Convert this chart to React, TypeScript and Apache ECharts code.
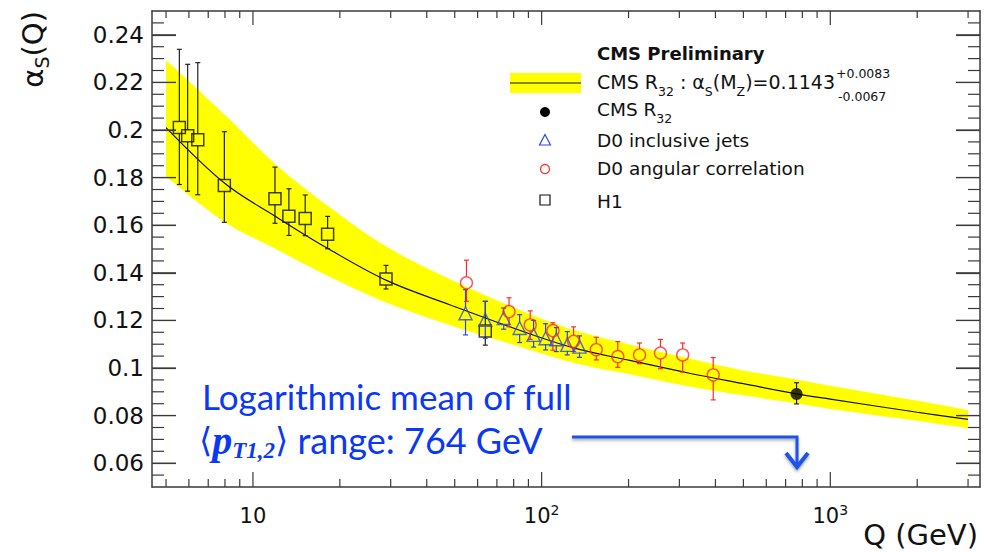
import React, { useEffect, useRef } from "react";
import * as echarts from "echarts";

// ---------- axis ticks ----------
const xMajorTicks = [10, 100, 1000];
const xMinorTicks = [5, 6, 7, 8, 9, 20, 30, 40, 50, 60, 70, 80, 90, 200, 300, 400, 500, 600, 700, 800, 900, 2000, 3000];
const yMajorTicks = [0.06, 0.08, 0.1, 0.12, 0.14, 0.16, 0.18, 0.2, 0.22, 0.24];
const yMinorTicks = [
  0.055, 0.065, 0.07, 0.075, 0.085, 0.09, 0.095, 0.105, 0.11, 0.115, 0.125, 0.13, 0.135, 0.145, 0.15, 0.155,
  0.165, 0.17, 0.175, 0.185, 0.19, 0.195, 0.205, 0.21, 0.215, 0.225, 0.23, 0.235, 0.245,
];

// ---------- CMS R32 fit band ----------
const bandQ = [5, 8, 12, 18, 29, 48, 91.2, 135, 200, 325, 500, 764, 1000, 2000, 3000];
const bandCentre = [0.201, 0.1775, 0.1636, 0.1505, 0.1368, 0.1266, 0.1143, 0.1078, 0.1033, 0.0978, 0.0934, 0.0891, 0.0869, 0.0814, 0.0784];
const bandUpper = [0.2294, 0.2063, 0.1855, 0.1685, 0.151, 0.1374, 0.1226, 0.1153, 0.11, 0.104, 0.099, 0.0952, 0.0925, 0.0862, 0.0823];
const bandLower = [0.1806, 0.1612, 0.15, 0.139, 0.1275, 0.1181, 0.1076, 0.1016, 0.0975, 0.0922, 0.0885, 0.0852, 0.0828, 0.0778, 0.0746];

// ---------- H1 ----------
const h1Q = [5.56, 5.94, 6.44, 7.96, 11.92, 13.32, 15.17, 18.14, 28.9, 63.8];
const h1Alpha = [0.201, 0.1976, 0.1959, 0.1767, 0.1711, 0.1638, 0.1628, 0.1562, 0.1374, 0.1155];
const h1Hi = [0.2339, 0.2276, 0.2283, 0.1993, 0.1844, 0.1753, 0.1727, 0.1637, 0.1431, 0.128];
const h1Lo = [0.1771, 0.1743, 0.1728, 0.1612, 0.1608, 0.1557, 0.1556, 0.1501, 0.1332, 0.1096];

// ---------- D0 inclusive jets ----------
const d0jQ = [54.5, 63.8, 73.9, 83.9, 93.8, 103.2, 112.4, 122.7, 135.3];
const d0jAlpha = [0.123, 0.1202, 0.121, 0.1168, 0.1139, 0.1125, 0.1121, 0.1097, 0.109];
const d0jHi = [0.1329, 0.128, 0.1252, 0.1224, 0.12, 0.1186, 0.117, 0.1153, 0.1135];
const d0jLo = [0.1139, 0.1125, 0.1163, 0.1107, 0.1088, 0.1076, 0.1069, 0.1055, 0.1045];

// ---------- D0 angular correlation ----------
const d0aQ = [54.9, 77.1, 91.3, 109.4, 129, 154.6, 183.6, 218.3, 258, 308, 393];
const d0aAlpha = [0.1358, 0.1237, 0.1181, 0.1157, 0.1112, 0.1077, 0.1048, 0.1055, 0.1063, 0.1055, 0.0971];
const d0aHi = [0.1453, 0.1295, 0.124, 0.119, 0.1173, 0.1129, 0.1111, 0.1105, 0.112, 0.1105, 0.1044];
const d0aLo = [0.128, 0.1173, 0.112, 0.1075, 0.1069, 0.1034, 0.1003, 0.1018, 0.0997, 0.0983, 0.0866];

// ---------- CMS R32 ----------
const cmsQ = [764];
const cmsAlpha = [0.0891];
const cmsHi = [0.0938];
const cmsLo = [0.0849];

const FONT = '"DejaVu Sans", "Liberation Sans", sans-serif';
const FRAME = "#3a3a3a";
const BLUE = "#2a48e6";
const RED = "#ff2b2b";
const ANNOT = "#0b38f5";
const Y_MIN = 0.05;
const Y_MAX = 0.25;
const X_MIN = 4.47;
const X_MAX = 3300;

function errorBars(name: string, qs: number[], vals: number[], los: number[], his: number[], color: string, gap: number) {
  return {
    type: "custom",
    name,
    silent: true,
    z: 4,
    encode: { x: 0, y: 1 },
    data: qs.map((q, i) => [q, vals[i], los[i], his[i]]),
    renderItem: (_p: any, api: any) => {
      const q = api.value(0);
      const c = api.coord([q, api.value(1)]);
      const lo = api.coord([q, api.value(2)]);
      const hi = api.coord([q, api.value(3)]);
      const st = { stroke: color, lineWidth: 1.2 };
      const ch: any[] = [];
      if (c[1] - gap > hi[1]) ch.push({ type: "line", shape: { x1: c[0], y1: hi[1], x2: c[0], y2: c[1] - gap }, style: { ...st } });
      if (lo[1] > c[1] + gap) ch.push({ type: "line", shape: { x1: c[0], y1: c[1] + gap, x2: c[0], y2: lo[1] }, style: { ...st } });
      ch.push({ type: "line", shape: { x1: c[0] - 2.5, y1: hi[1], x2: c[0] + 2.5, y2: hi[1] }, style: { ...st } });
      ch.push({ type: "line", shape: { x1: c[0] - 2.5, y1: lo[1], x2: c[0] + 2.5, y2: lo[1] }, style: { ...st } });
      return { type: "group", children: ch };
    },
  };
}

// one custom series drawing every tick mark of the frame: [q, alpha, length, kind]  (kind 0 = x tick, 1 = y tick)
const tickData = [
  ...xMajorTicks.map((q) => [q, 0.1, 15, 0]),
  ...xMinorTicks.map((q) => [q, 0.1, 8, 0]),
  ...yMajorTicks.map((v) => [10, v, 24, 1]),
  ...yMinorTicks.map((v) => [10, v, 12, 1]),
];

const tickSeries = {
  type: "custom",
  name: "frame ticks",
  silent: true,
  z: 10,
  clip: false,
  encode: { x: 0, y: 1 },
  data: tickData,
  renderItem: (params: any, api: any) => {
    const cs = params.coordSys;
    const p = api.coord([api.value(0), api.value(1)]);
    const len = api.value(2);
    const kind = api.value(3);
    const st = { stroke: FRAME, lineWidth: 1.2 };
    if (kind === 0) {
      const top = cs.y;
      const bottom = cs.y + cs.height;
      return {
        type: "group",
        children: [
          { type: "line", shape: { x1: p[0], y1: bottom, x2: p[0], y2: bottom - len }, style: { ...st } },
          { type: "line", shape: { x1: p[0], y1: top, x2: p[0], y2: top + len - 1 }, style: { ...st } },
        ],
      };
    }
    const left = cs.x;
    const right = cs.x + cs.width;
    return {
      type: "group",
      children: [
        { type: "line", shape: { x1: left, y1: p[1], x2: left + len, y2: p[1] }, style: { ...st } },
        { type: "line", shape: { x1: right, y1: p[1], x2: right - len, y2: p[1] }, style: { ...st } },
      ],
    };
  },
};

function xAxisDef(position: string, withLabels: boolean) {
  return {
    type: "log",
    logBase: 10,
    min: X_MIN,
    max: X_MAX,
    position,
    z: 10,
    splitLine: { show: false },
    axisLine: { show: true, onZero: false, lineStyle: { color: FRAME, width: 1.5 } },
    axisTick: { show: false },
    axisLabel: withLabels
      ? {
          show: true,
          customValues: xMajorTicks,
          margin: 16,
          color: "#111",
          formatter: (v: number) => {
            const e = Math.round(Math.log10(v));
            return e === 1 ? "{b|10}" : `{b|10}{s|${e}}`;
          },
          rich: {
            b: { fontSize: 21, fontFamily: FONT, color: "#111", lineHeight: 26 },
            s: { fontSize: 14, fontFamily: FONT, color: "#111", lineHeight: 14, verticalAlign: "top" },
          },
        }
      : { show: false },
  };
}

function yAxisDef(position: string, withLabels: boolean) {
  return {
    type: "value",
    min: Y_MIN,
    max: Y_MAX,
    position,
    z: 10,
    splitLine: { show: false },
    axisLine: { show: true, onZero: false, lineStyle: { color: FRAME, width: 1.5 } },
    axisTick: { show: true, inside: true, length: 24, customValues: yMajorTicks, lineStyle: { color: FRAME, width: 1.2 } },
    axisLabel: withLabels
      ? {
          show: true,
          customValues: yMajorTicks,
          margin: 8,
          fontSize: 23,
          fontFamily: FONT,
          color: "#111",
          formatter: (v: number) => String(+v.toFixed(3)),
        }
      : { show: false },
  };
}

export default function App() {
  const ref = useRef<HTMLDivElement>(null);

  useEffect(() => {
    if (!ref.current) return;
    const chart = echarts.init(ref.current, undefined, { renderer: "svg" });

    const legendText = { fontSize: 18.5, fontFamily: FONT, fill: "#111", verticalAlign: "middle", align: "left" };
    const subRich = { s: { fontSize: 12.5, fontFamily: FONT, fill: "#111", lineHeight: 12, verticalAlign: "bottom" } };

    const bandLine = {
      type: "line",
      smooth: 0.35,
      symbol: "none",
      silent: true,
      z: 1,
      lineStyle: { width: 0, opacity: 0 },
    };

    const option: any = {
      animation: false,
      backgroundColor: "#fff",
      grid: { left: 152, right: 4, top: 11, bottom: 65, containLabel: false, outerBoundsMode: "none" },
      xAxis: [xAxisDef("bottom", true), xAxisDef("top", false)],
      yAxis: [yAxisDef("left", true), yAxisDef("right", false)],
      series: [
        {
          ...bandLine,
          name: "CMS R32 fit (upper)",
          data: bandQ.map((q, i) => [q, bandUpper[i]]),
          areaStyle: { color: "#ffff00", opacity: 1, origin: "start" },
        },
        {
          ...bandLine,
          name: "CMS R32 fit (lower)",
          data: bandQ.map((q, i) => [q, bandLower[i]]),
          areaStyle: { color: "#ffffff", opacity: 1, origin: "start" },
        },
        {
          ...bandLine,
          name: "CMS R32 fit",
          data: bandQ.map((q, i) => [q, bandCentre[i]]),
          z: 3,
          lineStyle: { width: 1.2, color: "#111" },
        },
        tickSeries,
        errorBars("H1 errors", h1Q, h1Alpha, h1Lo, h1Hi, "#222", 6),
        errorBars("D0 inclusive jets errors", d0jQ, d0jAlpha, d0jLo, d0jHi, BLUE, 6),
        errorBars("D0 angular correlation errors", d0aQ, d0aAlpha, d0aLo, d0aHi, RED, 6),
        errorBars("CMS R32 errors", cmsQ, cmsAlpha, cmsLo, cmsHi, "#222", 5),
        {
          name: "H1",
          type: "scatter",
          z: 5,
          data: h1Q.map((q, i) => [q, h1Alpha[i]]),
          symbol: "rect",
          symbolSize: 12,
          itemStyle: { color: "rgba(0,0,0,0)", borderColor: "#111", borderWidth: 1.5 },
        },
        {
          name: "D0 inclusive jets",
          type: "scatter",
          z: 5,
          data: d0jQ.map((q, i) => [q, d0jAlpha[i]]),
          symbol: "triangle",
          symbolSize: 13,
          itemStyle: { color: "rgba(0,0,0,0)", borderColor: BLUE, borderWidth: 1.4 },
        },
        {
          name: "D0 angular correlation",
          type: "scatter",
          z: 6,
          data: d0aQ.map((q, i) => [q, d0aAlpha[i]]),
          symbol: "circle",
          symbolSize: 12,
          itemStyle: { color: "rgba(0,0,0,0)", borderColor: RED, borderWidth: 1.4 },
        },
        {
          name: "CMS R32",
          type: "scatter",
          z: 6,
          data: cmsQ.map((q, i) => [q, cmsAlpha[i]]),
          symbol: "circle",
          symbolSize: 12,
          itemStyle: { color: "#000" },
        },
      ],
      graphic: [
        // axis titles
        {
          type: "text",
          z: 100,
          x: 33,
          y: 11,
          rotation: Math.PI / 2,
          style: {
            text: "α{s|S}(Q)",
            fontSize: 29,
            fontFamily: FONT,
            fill: "#111",
            align: "right",
            verticalAlign: "middle",
            lineHeight: 36,
            rich: { s: { fontSize: 19, fontFamily: FONT, fill: "#111", lineHeight: 19, verticalAlign: "bottom" } },
          },
        },
        {
          type: "text",
          z: 100,
          x: 978,
          y: 535,
          style: { text: "Q (GeV)", fontSize: 29, fontFamily: FONT, fill: "#111", align: "right", verticalAlign: "middle" },
        },
        // legend
        { type: "text", z: 100, x: 597, y: 53, style: { ...legendText, fontSize: 18, text: "CMS Preliminary", fontWeight: "bold" } },
        { type: "rect", z: 100, shape: { x: 510, y: 73, width: 71, height: 20 }, style: { fill: "#ffff00" } },
        { type: "line", z: 101, shape: { x1: 510, y1: 83, x2: 581, y2: 83 }, style: { stroke: "#111", lineWidth: 1 } },
        {
          type: "text",
          z: 100,
          x: 597,
          y: 82,
          style: { ...legendText, fontSize: 19, lineHeight: 32, text: "CMS R{s|32} : α{s|S}(M{s|Z})=0.1143", rich: subRich },
        },
        { type: "text", z: 100, x: 836, y: 73, style: { ...legendText, fontSize: 12.5, text: "+0.0083" } },
        { type: "text", z: 100, x: 838, y: 96, style: { ...legendText, fontSize: 12.5, text: "-0.0067" } },
        { type: "circle", z: 100, shape: { cx: 545, cy: 112, r: 5 }, style: { fill: "#000" } },
        {
          type: "text",
          z: 100,
          x: 597,
          y: 109,
          style: { ...legendText, lineHeight: 32, text: "CMS R{s|32}", rich: subRich },
        },
        {
          type: "polygon",
          z: 100,
          shape: { points: [[545, 134.5], [539.5, 145], [550.5, 145]] },
          style: { fill: "none", stroke: BLUE, lineWidth: 1.2 },
        },
        { type: "text", z: 100, x: 597, y: 140, style: { ...legendText, text: "D0 inclusive jets" } },
        { type: "circle", z: 100, shape: { cx: 545, cy: 169, r: 4.5 }, style: { fill: "none", stroke: RED, lineWidth: 1.2 } },
        { type: "text", z: 100, x: 597, y: 168, style: { ...legendText, text: "D0 angular correlation" } },
        { type: "rect", z: 100, shape: { x: 540, y: 195, width: 10, height: 10 }, style: { fill: "none", stroke: "#111", lineWidth: 1.2 } },
        { type: "text", z: 100, x: 597, y: 201, style: { ...legendText, text: "H1" } },
        // annotation
        {
          type: "text",
          z: 100,
          x: 202,
          y: 396,
          style: { text: "Logarithmic mean of full", fontSize: 35, fontFamily: "Lato, 'Open Sans', sans-serif", fill: ANNOT, verticalAlign: "middle", align: "left" },
        },
        {
          type: "text",
          z: 100,
          x: 199,
          y: 440,
          style: {
            text: "{a|⟨}{p|p}{t|T1,2}{a|⟩}{r| range: 764 GeV}",
            fill: ANNOT,
            verticalAlign: "middle",
            align: "left",
            lineHeight: 44,
            rich: {
              a: { fontSize: 34, fontFamily: "'DejaVu Serif', serif", fill: ANNOT, lineHeight: 44 },
              p: { fontSize: 40, fontFamily: "'Liberation Serif', serif", fontStyle: "italic", fontWeight: "bold", fill: ANNOT, lineHeight: 44 },
              t: { fontSize: 23, fontFamily: "'Liberation Serif', serif", fontStyle: "italic", fontWeight: "bold", fill: ANNOT, lineHeight: 23, verticalAlign: "bottom" },
              r: { fontSize: 36, fontFamily: "Lato, 'Open Sans', sans-serif", fill: ANNOT, lineHeight: 44 },
            },
          },
        },
        {
          type: "polyline",
          z: 100,
          shape: { points: [[572, 437], [797, 437], [797, 466]] },
          style: { stroke: "#1f55e6", lineWidth: 3, fill: "none", shadowBlur: 3, shadowColor: "rgba(0,0,0,0.35)", shadowOffsetY: 2 },
        },
        {
          type: "polyline",
          z: 100,
          shape: { points: [[786, 453], [797, 467], [808, 453]] },
          style: { stroke: "#1f55e6", lineWidth: 4, fill: "none", lineJoin: "miter", shadowBlur: 3, shadowColor: "rgba(0,0,0,0.35)", shadowOffsetY: 2 },
        },
      ],
    };

    chart.setOption(option);
    return () => chart.dispose();
  }, []);

  return <div ref={ref} style={{ position: "fixed", left: 0, top: 0, width: 984, height: 552, background: "#fff" }} />;
}
